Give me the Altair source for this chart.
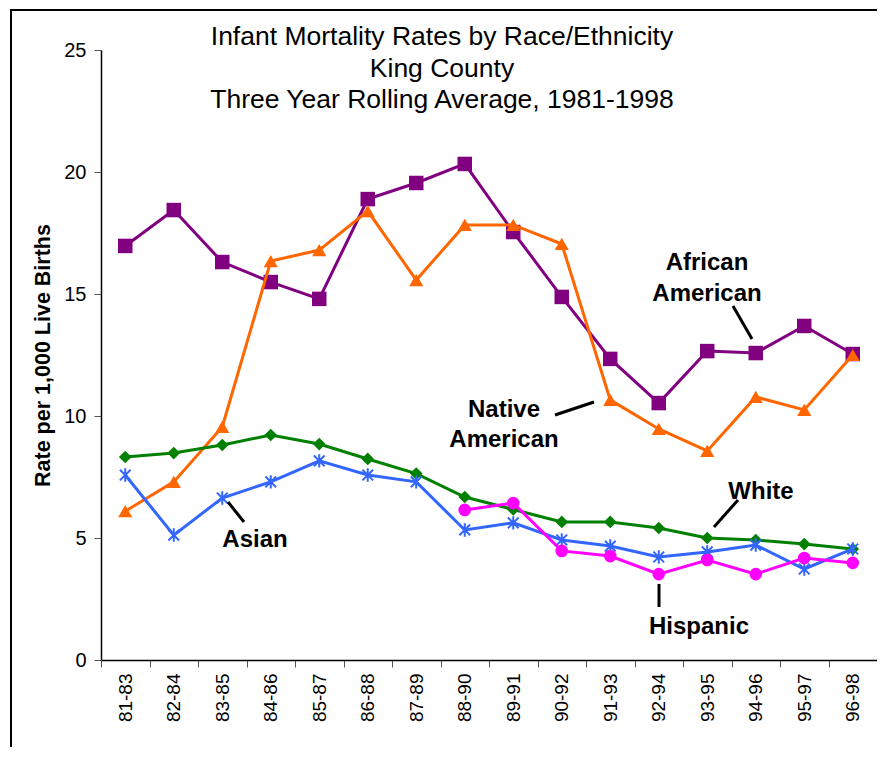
import altair as alt
import pandas as pd

categories = ["81-83", "82-84", "83-85", "84-86", "85-87", "86-88", "87-89", "88-90",
              "89-91", "90-92", "91-93", "92-94", "93-95", "94-96", "95-97", "96-98"]
african_american = [16.97, 18.44, 16.31, 15.49, 14.80, 18.89, 19.55, 20.33,
                    17.54, 14.88, 12.34, 10.53, 12.66, 12.58, 13.69, 12.54]
native_american = [6.1, 7.3, 9.55, 16.35, 16.8, 18.4, 15.57, 17.83,
                   17.83, 17.05, 10.66, 9.47, 8.57, 10.78, 10.25, 12.5]
white = [8.32, 8.48, 8.81, 9.22, 8.85, 8.24, 7.64, 6.68,
         6.17, 5.66, 5.66, 5.41, 5.0, 4.92, 4.75, 4.55]
asian = [7.58, 5.12, 6.64, 7.3, 8.16, 7.58, 7.3, 5.33,
         5.62, 4.92, 4.67, 4.22, 4.43, 4.71, 3.73, 4.55]
hispanic = [None, None, None, None, None, None, None, 6.15,
            6.43, 4.47, 4.26, 3.52, 4.1, 3.52, 4.18, 3.98]

title_lines = ["Infant Mortality Rates by Race/Ethnicity", "King County",
               "Three Year Rolling Average, 1981-1998"]

STAR = "M0,-1L0,1M-0.8,-0.8L0.8,0.8M-0.8,0.8L0.8,-0.8"

series = [
    ("African American", african_american, "#800080", "square", 210, True),
    ("Native American", native_american, "#FF6600", "triangle-up", 200, True),
    ("White", white, "#008000", "diamond", 160, True),
    ("Asian", asian, "#3366FF", STAR, 180, False),
    ("Hispanic", hispanic, "#FF00FF", "circle", 160, True),
]

FONT = "Liberation Sans"

x_enc = alt.X("period:N", sort=categories,
              scale=alt.Scale(domain=categories, paddingInner=0, paddingOuter=0),
              axis=alt.Axis(title=None, labelAngle=270, labelFontSize=19, labelFont=FONT,
                            labelColor="black", tickBand="extent", tickSize=7,
                            tickColor="#555555", domainColor="black", domainWidth=1.5,
                            labelPadding=6, grid=False))
y_enc = alt.Y("rate:Q",
              scale=alt.Scale(domain=[0, 25], nice=False, zero=True),
              axis=alt.Axis(title="Rate per 1,000 Live Births", values=[0, 5, 10, 15, 20, 25],
                            titleFont=FONT, titleFontSize=21.5, titleFontWeight="bold",
                            titleColor="black", titlePadding=9,
                            labelFont=FONT, labelFontSize=20, labelColor="black",
                            tickSize=7, tickColor="#555555", domainColor="black",
                            domainWidth=1.5, labelPadding=8, grid=False))

layers = []
for name, vals, color, shape, size, filled in series:
    df = pd.DataFrame({"period": categories, "rate": vals, "series": name}).dropna()
    base = alt.Chart(df)
    line = base.mark_line(color=color, strokeWidth=3).encode(x=x_enc, y=y_enc)
    if filled:
        pts = base.mark_point(shape=shape, size=size, filled=True, color=color,
                              opacity=1).encode(x=x_enc, y=y_enc)
    else:
        pts = base.mark_point(shape=shape, size=size, filled=False, color=color,
                              strokeWidth=2, opacity=1).encode(x=x_enc, y=y_enc)
    layers += [line, pts]

one = pd.DataFrame({"k": [0]})


def label(text, x, y, size=24, weight="bold", lh=None):
    kw = dict(font=FONT, fontSize=size, fontWeight=weight, color="black",
              align="center", baseline="middle")
    if lh:
        kw["lineHeight"] = lh
    return alt.Chart(one).mark_text(**kw).encode(
        x=alt.value(x), y=alt.value(y), text=alt.value(text))


def leader(x1, y1, x2, y2):
    return alt.Chart(one).mark_rule(color="black", strokeWidth=3).encode(
        x=alt.value(x1), y=alt.value(y1), x2=alt.value(x2), y2=alt.value(y2))


frame = alt.Chart(one).mark_rect(fillOpacity=0, stroke="black", strokeWidth=2).encode(
    x=alt.value(-90), x2=alt.value(783), y=alt.value(-40), y2=alt.value(760))

title = label(title_lines, 341, -13, size=26.5, weight="normal", lh=31.5)

annotations = [
    label(["African", "American"], 606, 213, lh=31),
    leader(632, 256, 651, 289),
    label(["Native", "American"], 403, 360, lh=30),
    leader(454, 365, 493, 352),
    label("White", 660, 442),
    leader(637, 450, 613, 477),
    label("Hispanic", 598, 577),
    leader(558, 534, 558, 557),
    label("Asian", 154, 490),
    leader(127, 452, 143, 472),
]

chart = alt.layer(frame, *layers, title, *annotations).properties(
    width=776, height=610,
    autosize=alt.AutoSizeParams(type="none"),
    padding={"left": 93, "top": 42, "right": 0, "bottom": 87},
    background="white",
).configure_view(stroke=None)

chart.save("out.html", embed_options={"renderer": "svg", "actions": False})
